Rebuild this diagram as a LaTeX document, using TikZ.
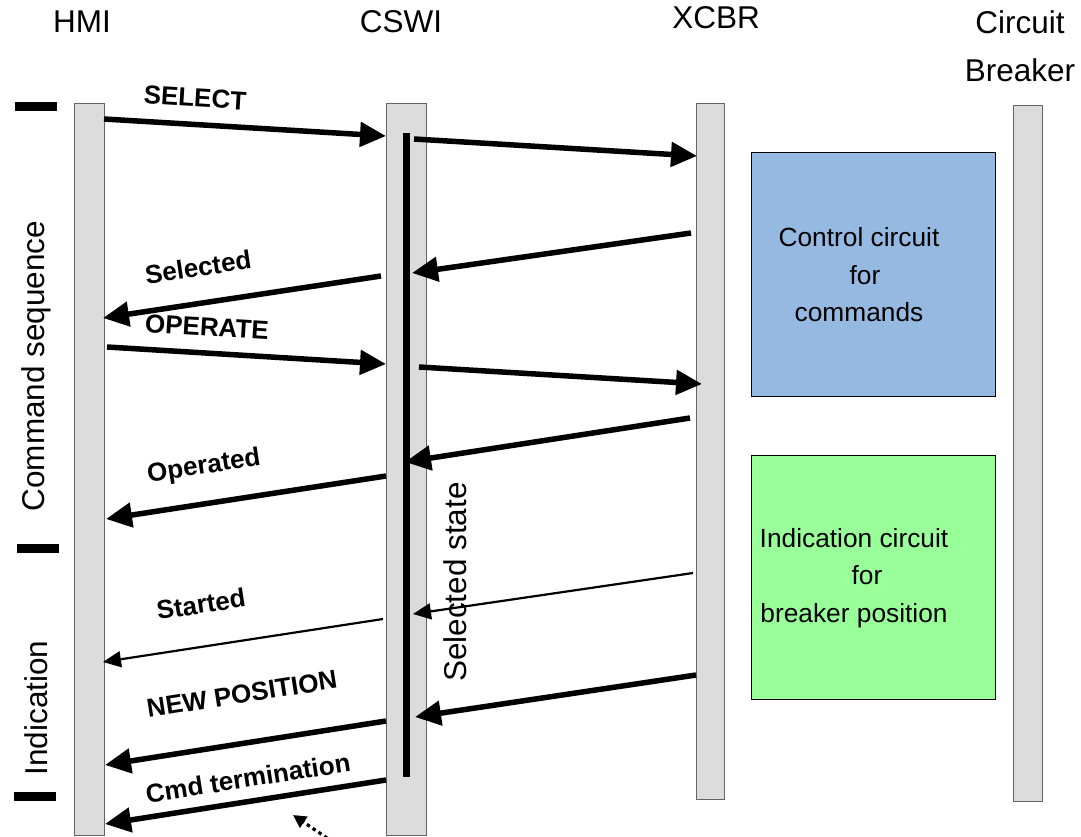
\documentclass[tikz,border=0pt]{standalone}
\usepackage{fontspec}
\setmainfont{Liberation Sans}
\usetikzlibrary{arrows.meta}
\definecolor{barfill}{RGB}{220,220,220}
\definecolor{barline}{RGB}{100,100,100}
\definecolor{ctrlblue}{RGB}{150,185,225}
\definecolor{indgreen}{RGB}{153,255,153}
\begin{document}
\begin{tikzpicture}[x=1pt,y=-1pt,
  lifeline/.style={draw=barline, line width=1.2pt, fill=barfill, inner sep=0pt, anchor=north west},
  marker/.style={fill=black, inner sep=0pt, anchor=north west, minimum width=42pt, minimum height=9pt},
  head/.style={font=\fontsize{31.5}{48}\selectfont, inner sep=0pt, align=center},
  side/.style={font=\fontsize{31.5}{36}\selectfont, inner sep=0pt, rotate=90},
  lab/.style={font=\bfseries\fontsize{26}{30}\selectfont, inner sep=0pt},
  boxtext/.style={font=\fontsize{26.3}{37.5}\selectfont, inner sep=0pt, align=center},
  circuit/.style={draw=black, line width=1pt, inner sep=0pt, anchor=north west, minimum width=244pt, minimum height=244pt},
  thickarr/.style={line width=5.5pt, -{Triangle[length=26pt,width=24pt]}},
  thinarr/.style={line width=2.2pt, -{Triangle[length=18pt,width=16pt]}},
  dotarr/.style={line width=3.2pt, dash pattern=on 3.5pt off 3.5pt, -{Triangle[length=13pt,width=13pt]}}
]
\useasboundingbox (0,0) rectangle (1081,837);

% headers
\node[head] (hHMI) at (82,22) {HMI};
\node[head] (hCSWI) at (401,22) {CSWI};
\node[head] (hXCBR) at (716,18) {XCBR};
\node[head] (hCB) at (1020,46) {Circuit\\Breaker};

% lifelines
\node[lifeline, minimum width=30pt, minimum height=732pt] (hmi) at (74,103) {};
\node[lifeline, minimum width=40pt, minimum height=732pt] (cswi) at (386,103) {};
\node[lifeline, minimum width=28pt, minimum height=696pt] (xcbr) at (696,103) {};
\node[lifeline, minimum width=29pt, minimum height=696pt] (cb) at (1013,105) {};

% selected state bar
\node[fill=black, inner sep=0pt, anchor=north west, minimum width=7pt, minimum height=644pt] (selbar) at (403,133) {};
\node[side] (selstate) at (455,582) {Selected state};

% left markers and phase labels
\node[marker] (m1) at (15,102) {};
\node[marker] (m2) at (17,544) {};
\node[marker] (m3) at (14,792) {};
\node[side] (cmdseq) at (36,366) {Command sequence};
\node[side] (indic) at (36,708) {Indication};

% circuits
\node[circuit, fill=ctrlblue] (ctrl) at (751,152) {};
\node[boxtext] (ctrltext) at (859,275) {Control circuit\\\hspace*{12pt}for\\commands};
\node[circuit, fill=indgreen] (ind) at (751,455) {};
\node[boxtext] (indtext) at (854,578) {Indication circuit\\\hspace*{26pt}for\\breaker position};

% arrow endpoints
\coordinate (a1s) at (104,119);  \coordinate (a1e) at (386,136);
\coordinate (a2s) at (414,139);  \coordinate (a2e) at (697,156);
\coordinate (a3s) at (691,233);  \coordinate (a3e) at (412,273);
\coordinate (a4s) at (381,276);  \coordinate (a4e) at (103,318);
\coordinate (a5s) at (107,347);  \coordinate (a5e) at (386,364);
\coordinate (a6s) at (419,367);  \coordinate (a6e) at (702,384);
\coordinate (a7s) at (690,418);  \coordinate (a7e) at (405,462);
\coordinate (a8s) at (386,476);  \coordinate (a8e) at (106,519);
\coordinate (a9s) at (693,573);  \coordinate (a9e) at (413,614);
\coordinate (a10s) at (383,619); \coordinate (a10e) at (103,662);
\coordinate (a11s) at (696,675); \coordinate (a11e) at (415,717);
\coordinate (a12s) at (386,721); \coordinate (a12e) at (105,765);
\coordinate (a13s) at (386,780); \coordinate (a13e) at (105,824);
\coordinate (a14s) at (333,842); \coordinate (a14e) at (293,815);

\draw[thickarr] (a1s) -- (a1e);
\draw[thickarr] (a2s) -- (a2e);
\draw[thickarr] (a3s) -- (a3e);
\draw[thickarr] (a4s) -- (a4e);
\draw[thickarr] (a5s) -- (a5e);
\draw[thickarr] (a6s) -- (a6e);
\draw[thickarr] (a7s) -- (a7e);
\draw[thickarr] (a8s) -- (a8e);
\draw[thinarr] (a9s) -- (a9e);
\draw[thinarr] (a10s) -- (a10e);
\draw[thickarr] (a11s) -- (a11e);
\draw[thickarr] (a12s) -- (a12e);
\draw[thickarr] (a13s) -- (a13e);
\draw[dotarr] (a14s) -- (a14e);

% labels
\node[lab, rotate=-3.5] (lSel) at (195,98) {SELECT};
\node[lab, rotate=8.6] (lSeld) at (198,267) {Selected};
\node[lab, rotate=-3.5] (lOp) at (207,327) {OPERATE};
\node[lab, rotate=8.7] (lOpd) at (204,467) {Operated};
\node[lab, rotate=8.7] (lSt) at (201,604) {Started};
\node[lab, rotate=8.9] (lNP) at (242,694) {NEW POSITION};
\node[lab, rotate=8.9] (lCT) at (248,778) {Cmd termination};
\end{tikzpicture}
\end{document}
